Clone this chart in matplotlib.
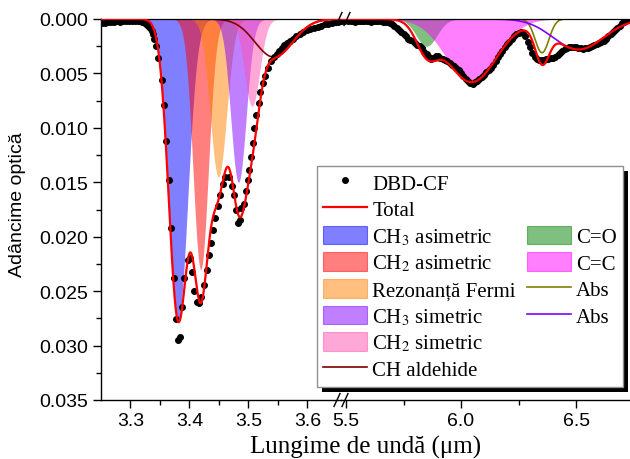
import numpy as np
import matplotlib
matplotlib.use("Agg")
import matplotlib.pyplot as plt
from matplotlib.patches import Patch, Rectangle
from matplotlib.lines import Line2D
from matplotlib.ticker import MultipleLocator, FixedLocator

plt.rcParams['mathtext.fontset'] = 'stix'

# ---------------- measured points (DBD-CF) ----------------
x_left = [3.252, 3.257, 3.262, 3.267, 3.272, 3.277, 3.282, 3.287, 3.292, 3.297,
          3.302, 3.307, 3.312, 3.316, 3.320, 3.324, 3.327, 3.330, 3.333, 3.336,
          3.338, 3.340, 3.344, 3.347, 3.353, 3.357, 3.360, 3.365, 3.368, 3.373,
          3.377, 3.381, 3.384, 3.388, 3.391, 3.398, 3.401, 3.404, 3.408, 3.412,
          3.416, 3.419, 3.425, 3.429, 3.433, 3.436, 3.440, 3.444, 3.448, 3.452,
          3.456, 3.461, 3.467, 3.472, 3.476, 3.479, 3.482, 3.485, 3.487, 3.492,
          3.496, 3.499, 3.501, 3.504, 3.507, 3.510, 3.513, 3.517, 3.520, 3.524,
          3.528, 3.533, 3.538, 3.543, 3.548, 3.552, 3.556, 3.561, 3.565, 3.570,
          3.576, 3.581, 3.587, 3.593, 3.599, 3.605, 3.611, 3.617, 3.623, 3.629,
          3.635, 3.641, 3.647, 3.652]
y_left = [0.0004, 0.0004, 0.0003, 0.0003, 0.0003, 0.0002, 0.0003, 0.0002, 0.0002, 0.0002,
          0.0002, 0.0002, 0.0002, 0.0002, 0.0003, 0.0004, 0.0005, 0.0006, 0.0008, 0.0011,
          0.0014, 0.0018, 0.0025, 0.0036, 0.0056, 0.0079, 0.0112, 0.0148, 0.0192, 0.0238,
          0.0276, 0.0295, 0.0292, 0.0265, 0.0238, 0.0221, 0.0220, 0.0232, 0.0250, 0.0260,
          0.0261, 0.0255, 0.0244, 0.0231, 0.0217, 0.0206, 0.0194, 0.0183, 0.0172, 0.0162,
          0.0152, 0.0145, 0.0145, 0.0153, 0.0162, 0.0175, 0.0187, 0.0185, 0.0174, 0.0170,
          0.0158, 0.0148, 0.0139, 0.0127, 0.0114, 0.0100, 0.0088, 0.0077, 0.0067, 0.0059,
          0.0052, 0.0045, 0.0039, 0.0035, 0.0032, 0.0029, 0.0027, 0.0024, 0.0022, 0.0020,
          0.0018, 0.0016, 0.0014, 0.0012, 0.0010, 0.0009, 0.0008, 0.0007, 0.0006, 0.0005,
          0.0005, 0.0004, 0.0003, 0.0003]

x_right = np.round(np.arange(5.48, 6.7351, 0.01), 2)
y_right = [0.0002, 0.0002, 0.0001, 0.0002, 0.0002, 0.0002, 0.0003, 0.0002, 0.0002, 0.0002,
           0.0002, 0.0002, 0.0002, 0.0003, 0.0002, 0.0002, 0.0002, 0.0002, 0.0003, 0.0003,
           0.0003, 0.0004, 0.0005, 0.0006, 0.0008, 0.0010, 0.0012, 0.0014, 0.0016, 0.0018,
           0.0019, 0.0020, 0.0022, 0.0024, 0.0025, 0.0027, 0.0030, 0.0032, 0.0035, 0.0037,
           0.0036, 0.0034, 0.0034, 0.0036, 0.0037, 0.0038, 0.0039, 0.0040, 0.0042, 0.0043,
           0.0045, 0.0047, 0.0050, 0.0052, 0.0055, 0.0057, 0.0059, 0.0060, 0.0058, 0.0057,
           0.0055, 0.0053, 0.0051, 0.0049, 0.0047, 0.0045, 0.0042, 0.0039, 0.0035, 0.0032,
           0.0029, 0.0026, 0.0023, 0.0021, 0.0018, 0.0016, 0.0014, 0.0013, 0.0012, 0.0013,
           0.0016, 0.0021, 0.0026, 0.0031, 0.0035, 0.0037, 0.0038, 0.0038, 0.0038, 0.0037,
           0.0037, 0.0036, 0.0036, 0.0035, 0.0033, 0.0031, 0.0029, 0.0028, 0.0027, 0.0026,
           0.0026, 0.0026, 0.0026, 0.0027, 0.0027, 0.0028, 0.0027, 0.0027, 0.0026, 0.0025,
           0.0024, 0.0023, 0.0022, 0.0021, 0.0020, 0.0018, 0.0016, 0.0014, 0.0012, 0.0010,
           0.0008, 0.0006, 0.0004, 0.0003, 0.0001, 0.0000]
y_right = y_right[:len(x_right)]

# ---------------- fitted components: centre (um), depth, sigma (um) ----------------
fill_labels_left = ['CH$_3$ asimetric', 'CH$_2$ asimetric', 'Rezonanță Fermi',
                    'CH$_3$ simetric', 'CH$_2$ simetric']
fill_centres_left = [3.381, 3.419, 3.449, 3.483, 3.506]
fill_depths_left = [0.0275, 0.0230, 0.0145, 0.0150, 0.0080]
fill_sigmas_left = [0.016, 0.013, 0.014, 0.013, 0.013]
fill_colors_left = ['#0000FF', '#FF0000', '#FF8000', '#8000FF', '#FF50B0']

ald_label = 'CH aldehide'
ald_centre, ald_depth, ald_sigma = 3.543, 0.0035, 0.032

fill_labels_right = ['C=O', 'C=C']
fill_centres_right = [5.85, 6.045]
fill_depths_right = [0.0025, 0.0058]
fill_sigmas_right = [0.045, 0.11]
fill_colors_right = ['#008000', '#FF00FF']

abs_labels = ['Abs', 'Abs']
abs_centres = [6.352, 6.51]
abs_depths = [0.0031, 0.0028]
abs_sigmas = [0.03, 0.11]
abs_colors = ['#808000', '#8000FF']

xlim_left = (3.25, 3.6568)
xlim_right = (5.478, 6.7345)


def gauss(x, c, a, s):
    return a * np.exp(-(x - c) ** 2 / (2 * s * s))


W, H = 630, 460
def fx(px):
    return px / W
def fy(py):
    return 1 - py / H

fig = plt.figure(figsize=(6.3, 4.6), dpi=100)
ax1 = fig.add_axes([fx(101), fy(401), fx(341) - fx(101), fy(20) - fy(401)])
ax2 = fig.add_axes([fx(341), fy(401), fx(630) - fx(341), fy(20) - fy(401)])

# left panel
xl = np.linspace(xlim_left[0], xlim_left[1], 800)
total_l = np.zeros_like(xl)
for c, a, s, col in zip(fill_centres_left, fill_depths_left, fill_sigmas_left, fill_colors_left):
    g = gauss(xl, c, a, s)
    total_l += g
    ax1.fill_between(xl, 0, g, color=col, alpha=0.5, lw=0, zorder=1)
g_ald = gauss(xl, ald_centre, ald_depth, ald_sigma)
total_l += g_ald
ax1.plot(xl, g_ald, color='#800000', lw=1.2, zorder=2)
ax1.plot(x_left, y_left, 'o', color='k', ms=4, zorder=3)
ax1.plot(xl, total_l, color='#FF0000', lw=1.6, zorder=4)

# right panel
xr = np.linspace(xlim_right[0], xlim_right[1], 1000)
total_r = np.zeros_like(xr)
for c, a, s, col in zip(fill_centres_right, fill_depths_right, fill_sigmas_right, fill_colors_right):
    g = gauss(xr, c, a, s)
    total_r += g
    ax2.fill_between(xr, 0, g, color=col, alpha=0.5, lw=0, zorder=1)
for c, a, s, col in zip(abs_centres, abs_depths, abs_sigmas, abs_colors):
    g = gauss(xr, c, a, s)
    total_r += g
    ax2.plot(xr, g, color=col, lw=1.2, zorder=2)
ax2.plot(x_right, y_right, 'o', color='k', ms=4, zorder=3)
ax2.plot(xr, total_r, color='#FF0000', lw=1.6, zorder=4)

for ax in (ax1, ax2):
    ax.set_ylim(0.035, 0.0)
    ax.spines['right'].set_visible(False)
    ax.spines['top'].set_linewidth(0.9)
    ax.spines['bottom'].set_linewidth(1.0)
    ax.spines['left'].set_linewidth(1.0)
    ax.tick_params(which='both', direction='out', top=False, right=False, labelsize=14, pad=3)
    ax.tick_params(which='major', length=6, width=1.0)
    ax.tick_params(which='minor', length=3.5, width=1.0)
    ax.set_facecolor('none')

ax1.set_xlim(*xlim_left)
ax1.xaxis.set_major_locator(FixedLocator([3.3, 3.4, 3.5, 3.6]))
ax1.xaxis.set_minor_locator(FixedLocator([3.35, 3.45, 3.55]))
ax1.yaxis.set_major_locator(MultipleLocator(0.005))
ax1.yaxis.set_minor_locator(MultipleLocator(0.0025))
ax1.set_yticklabels([f'{v:.3f}' for v in ax1.get_yticks()])
ax1.set_xticklabels(['3.3', '3.4', '3.5', '3.6'])

ax2.set_xlim(*xlim_right)
ax2.xaxis.set_major_locator(FixedLocator([5.5, 6.0, 6.5]))
ax2.xaxis.set_minor_locator(FixedLocator([5.75, 6.25]))
ax2.set_xticklabels(['5.5', '6.0', '6.5'])
ax2.spines['left'].set_visible(False)
ax2.tick_params(axis='y', which='both', left=False, labelleft=False)

for ax in (ax1, ax2):
    for lab in ax.get_xticklabels() + ax.get_yticklabels():
        lab.set_fontfamily(['Liberation Sans', 'DejaVu Sans'])
        lab.set_fontsize(14)

# break marks
for (cx, cy) in [(341, 401), (343, 20)]:
    for dx in (-4, 4):
        fig.add_artist(Line2D([fx(cx + dx - 3), fx(cx + dx + 3)], [fy(cy + 6.5), fy(cy - 6.5)],
                              color='k', lw=1.0, transform=fig.transFigure))

# axis labels
fig.text(fx(366), fy(447), 'Lungime de undă (μm)', ha='center', va='center',
         fontsize=18, family=['Liberation Serif', 'DejaVu Serif'])
fig.text(fx(17.5), fy(205), 'Adâncime optică', ha='center', va='center', rotation=90,
         fontsize=14, family=['Liberation Sans', 'DejaVu Sans'])

# legend
blank = Rectangle((0, 0), 1, 1, visible=False)
handles = [Line2D([], [], color='k', marker='o', ls='none', ms=4),
           Line2D([], [], color='#FF0000', lw=1.6)]
labels = ['DBD-CF', 'Total']
for lab, col in zip(fill_labels_left, fill_colors_left):
    handles.append(Patch(facecolor=col, alpha=0.5, edgecolor=col, lw=0.8))
    labels.append(lab)
handles.append(Line2D([], [], color='#800000', lw=1.2))
labels.append(ald_label)
handles += [blank, blank]
labels += ['', '']
for lab, col in zip(fill_labels_right, fill_colors_right):
    handles.append(Patch(facecolor=col, alpha=0.5, edgecolor=col, lw=0.8))
    labels.append(lab)
for lab, col in zip(abs_labels, abs_colors):
    handles.append(Line2D([], [], color=col, lw=1.2))
    labels.append(lab)
handles += [blank, blank]
labels += ['', '']

leg = fig.legend(handles, labels, loc='upper left', bbox_to_anchor=(fx(317), fy(167)),
                 ncol=2, frameon=True, fancybox=False, framealpha=1, edgecolor='#909090',
                 prop={'family': ['Liberation Serif', 'DejaVu Serif'], 'size': 15},
                 handlelength=2.1, handleheight=1.0, handletextpad=0.25,
                 labelspacing=0.25, columnspacing=0.55, borderpad=0.3, borderaxespad=0,
                 numpoints=1)
leg.get_frame().set_linewidth(1.0)

fig.canvas.draw()
bb = leg.get_window_extent()
shadow = Rectangle((fx(bb.x0 + 5), (bb.y0 - 5) / H), bb.width / W, bb.height / H,
                   transform=fig.transFigure, facecolor='k', edgecolor='none',
                   zorder=leg.get_zorder() - 0.01)
fig.add_artist(shadow)

fig.savefig('out.png', dpi=100)
